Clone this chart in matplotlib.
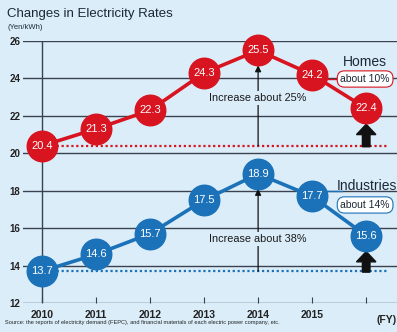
import numpy as np
import matplotlib.pyplot as plt
from matplotlib.patches import FancyArrow

plt.rcParams['font.family'] = ['Liberation Sans', 'DejaVu Sans']

# Electricity rates (Yen/kWh) by fiscal year
years = [2010, 2011, 2012, 2013, 2014, 2015, 2016]
year_labels = ['2010', '2011', '2012', '2013', '2014', '2015', '']
homes = [20.4, 21.3, 22.3, 24.3, 25.5, 24.2, 22.4]
industries = [13.7, 14.6, 15.7, 17.5, 18.9, 17.7, 15.6]
y_ticks = [12, 14, 16, 18, 20, 22, 24, 26]

bg = '#dbedf9'
red = '#d7141f'
blue = '#1b72b8'
grid_col = '#39424e'
navy = '#1c2836'

fig = plt.figure(figsize=(3.97, 3.32), dpi=100, facecolor=bg)
ax = fig.add_axes([0.058, 0.0873, 0.942, 0.7892])
ax.set_facecolor(bg)

x = np.arange(len(years))
ax.set_xlim(-0.35, 6.57)
ax.set_ylim(12, 26)

# horizontal grid and left axis line
for v in y_ticks:
    ax.axhline(v, color=grid_col, lw=1.0, zorder=1)
ax.plot([0, 0], [12, 26], color=grid_col, lw=1.0, zorder=1)
for s in ax.spines.values():
    s.set_visible(False)

ax.set_yticks(y_ticks)
ax.set_yticklabels([str(v) for v in y_ticks], fontsize=7, fontweight='bold', color='#222222')
ax.tick_params(axis='y', length=0, pad=2)
ax.set_xticks(x)
ax.set_xticklabels(year_labels, fontsize=7.5, fontweight='bold', color='#222222')
ax.tick_params(axis='x', direction='in', length=4, color=grid_col, pad=5)
ax.text(6.57, 11.35, '(FY)', fontsize=7.5, fontweight='bold', color='#222222',
        ha='right', va='top')

# baseline reference (2010 level)
ax.plot([0, 6.4], [homes[0], homes[0]], color=red, lw=1.6, ls=(0, (1, 1.2)), zorder=2)
ax.plot([0, 6.4], [industries[0], industries[0]], color=blue, lw=1.6, ls=(0, (1, 1.2)), zorder=2)

# thin arrows at 2014 peak
for base, peak in [(homes[0], homes[4]), (industries[0], industries[4])]:
    ax.annotate('', xy=(4, peak - 0.8), xytext=(4, base),
                arrowprops=dict(arrowstyle='-|>', color='#111111', lw=0.9,
                                mutation_scale=9, shrinkA=0, shrinkB=0), zorder=2)

ax.text(4, 22.95, 'Increase about 25%', fontsize=7.8, color='#1a1a1a', ha='center', va='center',
        bbox=dict(facecolor=bg, edgecolor='none', pad=1.5), zorder=3)
ax.text(4, 15.42, 'Increase about 38%', fontsize=7.8, color='#1a1a1a', ha='center', va='center',
        bbox=dict(facecolor=bg, edgecolor='none', pad=1.5), zorder=3)

# thick arrows at latest year
for base, top in [(homes[0], homes[6] - 0.8), (industries[0], industries[6] - 0.8)]:
    ax.add_patch(FancyArrow(6, base - 0.05, 0, top - base, width=0.14, head_width=0.36,
                            head_length=0.55, length_includes_head=True,
                            color='#111111', zorder=3))

# series lines with value bubbles
for vals, col in [(homes, red), (industries, blue)]:
    ax.plot(x, vals, color=col, lw=2.6, zorder=4, clip_on=False)
    ax.plot(x, vals, 'o', ms=22, color=col, markeredgecolor=col, zorder=5, clip_on=False)
    for xi, v in zip(x, vals):
        ax.text(xi, v, f'{v}', color='white', fontsize=8, ha='center', va='center',
                zorder=6, clip_on=False)

# series labels
ax.plot([5.2, 5.6], [23.97, 23.97], color=red, lw=1.0, zorder=3)
ax.text(5.98, 24.88, 'Homes', fontsize=10, color=navy, ha='center', va='center')
ax.text(5.98, 23.97, 'about 10%', fontsize=7.5, color=navy, ha='center', va='center',
        bbox=dict(boxstyle='round,pad=0.3,rounding_size=0.7', facecolor='white',
                  edgecolor=red, lw=0.8), zorder=6)
ax.plot([5.2, 5.55], [18.0, 18.0], color=blue, lw=1.0, zorder=3)
ax.text(6.02, 18.25, 'Industries', fontsize=10, color=navy, ha='center', va='center',
        clip_on=False)
ax.text(5.98, 17.24, 'about 14%', fontsize=7.5, color=navy, ha='center', va='center',
        bbox=dict(boxstyle='round,pad=0.3,rounding_size=0.7', facecolor='white',
                  edgecolor=blue, lw=0.8), zorder=6)

fig.text(0.018, 0.957, 'Changes in Electricity Rates', fontsize=9.5, color=navy,
         ha='left', va='center')
fig.text(0.018, 0.918, '(Yen/kWh)', fontsize=5.5, color=navy, ha='left', va='center')
fig.text(0.013, 0.028, 'Source: the reports of electricity demand (FEPC), and financial materials '
         'of each electric power company, etc.', fontsize=4.1, color='#222222',
         ha='left', va='center')

fig.savefig('out.png', dpi=100, facecolor=bg)
